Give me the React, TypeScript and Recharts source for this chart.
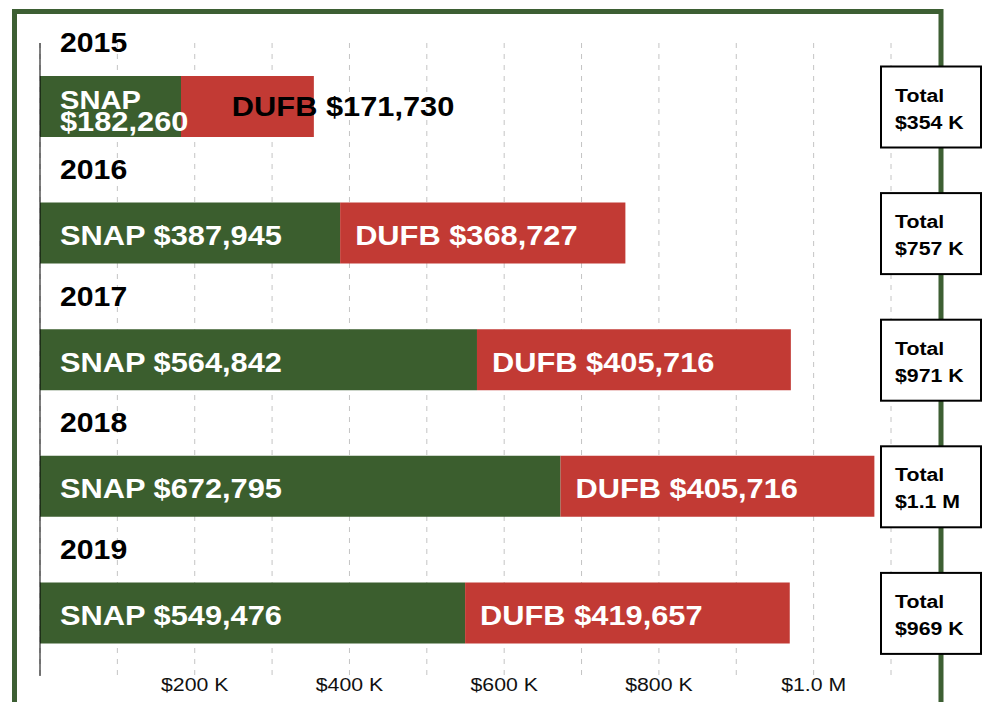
import { Bar, BarChart, CartesianGrid, LabelList, XAxis, YAxis } from "recharts";

const YEARS = ["2015", "2016", "2017", "2018", "2019"];
const SNAP = [182260, 387945, 564842, 672795, 549476];
const DUFB = [171730, 368727, 405716, 405716, 419657];
const X_TICKS = [0, 100000, 200000, 300000, 400000, 500000, 600000, 700000, 800000, 900000, 1000000, 1100000];
const X_TICK_LABELS = ["", "", "$200 K", "", "$400 K", "", "$600 K", "", "$800 K", "", "$1.0 M", ""];

const VERDE = "#3b5e2e";
const VERMELHO = "#c23a34";
const MOLDURA = "#3d5f33";
const FONTE = "'Liberation Sans', Arial, Helvetica, sans-serif";
const ESTICA = 1.12; // texto do original é levemente alargado

const linhas = YEARS.map((ano, i) => ({ ano, snap: SNAP[i], dufb: DUFB[i] }));

function moeda(v: number): string {
  return "$" + v.toLocaleString("en-US");
}

function totalCurto(v: number): string {
  if (v >= 1000000) return `$${(v / 1000000).toFixed(1)} M`;
  return `$${Math.round(v / 1000)} K`;
}

// texto alargado horizontalmente a partir do ponto (x, y)
function Texto({
  x,
  y,
  children,
  size,
  fill = "#000",
  bold = true,
  anchor = "start",
}: {
  x: number;
  y: number;
  children: string;
  size: number;
  fill?: string;
  bold?: boolean;
  anchor?: "start" | "middle";
}) {
  return (
    <text
      transform={`translate(${x} ${y}) scale(${ESTICA} 1)`}
      x={0}
      y={0}
      fontFamily={FONTE}
      fontSize={size}
      fontWeight={bold ? 700 : 400}
      fill={fill}
      textAnchor={anchor}
    >
      {children}
    </text>
  );
}

function caixa(p: any) {
  const vb = p.viewBox ?? p;
  return {
    x: Number(p.x ?? vb.x),
    y: Number(p.y ?? vb.y),
    width: Number(p.width ?? vb.width),
    height: Number(p.height ?? vb.height),
  };
}

function RotuloSnap(p: any) {
  const { x, y, width, height } = caixa(p);
  const cy = y + height / 2;
  const v = moeda(Number(p.value));
  if (width < 200) {
    return (
      <g>
        <Texto x={x + 20} y={cy + 2} size={26} fill="#fff">SNAP</Texto>
        <Texto x={x + 20} y={cy + 24} size={27.5} fill="#fff">{v}</Texto>
      </g>
    );
  }
  return <Texto x={x + 20} y={cy + 12} size={27.5} fill="#fff">{`SNAP ${v}`}</Texto>;
}

function RotuloDufb(p: any) {
  const { x, y, width, height } = caixa(p);
  const cy = y + height / 2;
  const t = `DUFB ${moeda(Number(p.value))}`;
  if (width < 200) {
    return <Texto x={x + width - 82} y={cy + 9} size={27.5}>{t}</Texto>;
  }
  return <Texto x={x + 15} y={cy + 12} size={27.5} fill="#fff">{t}</Texto>;
}

function CaixaTotal(p: any) {
  const { y, height } = caixa(p);
  const i = Number(p.index);
  const cy = y + height / 2;
  const total = SNAP[i] + DUFB[i];
  return (
    <g>
      <rect x={881} y={cy - 40} width={100} height={81} fill="#fff" stroke="#000" strokeWidth={2} />
      <Texto x={895} y={cy - 5} size={19}>Total</Texto>
      <Texto x={895} y={cy + 22} size={19}>{totalCurto(total)}</Texto>
    </g>
  );
}

function TickAno(p: any) {
  return <Texto x={60} y={Number(p.y) - 54} size={27}>{p.payload.value}</Texto>;
}

function TickValor(p: any) {
  const i = X_TICKS.indexOf(Number(p.payload.value));
  const rot = X_TICK_LABELS[i] ?? "";
  if (!rot) return null;
  return (
    <Texto x={Number(p.x)} y={Number(p.y) + 15} size={19} bold={false} fill="#111" anchor="middle">
      {rot}
    </Texto>
  );
}

export default function App() {
  return (
    <div style={{ position: "absolute", left: 0, top: 0, width: 989, height: 702, background: "#fff" }}>
      <svg width={989} height={702} style={{ position: "absolute", left: 0, top: 0 }}>
        <path d="M14.5 702 V11.5 H941 V702" fill="none" stroke={MOLDURA} strokeWidth={5} />
      </svg>
      <div style={{ position: "absolute", left: 0, top: 0 }}>
        <BarChart
          width={989}
          height={702}
          data={linhas}
          layout="vertical"
          margin={{ top: 43, right: 98, left: 0, bottom: 0 }}
          barCategoryGap={0}
        >
          <CartesianGrid horizontal={false} stroke="#c4c4c4" strokeDasharray="5 6" />
          <XAxis
            type="number"
            domain={[0, 1100000]}
            ticks={X_TICKS}
            interval={0}
            axisLine={false}
            tickLine={false}
            tickSize={0}
            tickMargin={0}
            height={26}
            tick={<TickValor />}
          />
          <YAxis
            type="category"
            dataKey="ano"
            width={40}
            axisLine={{ stroke: "#000", strokeWidth: 1 }}
            tickLine={false}
            tick={<TickAno />}
          />
          <Bar dataKey="snap" stackId="a" fill={VERDE} barSize={61} isAnimationActive={false}>
            <LabelList dataKey="snap" content={<RotuloSnap />} />
          </Bar>
          <Bar dataKey="dufb" stackId="a" fill={VERMELHO} barSize={61} isAnimationActive={false}>
            <LabelList dataKey="dufb" content={<RotuloDufb />} />
            <LabelList dataKey="dufb" content={<CaixaTotal />} />
          </Bar>
        </BarChart>
      </div>
    </div>
  );
}
